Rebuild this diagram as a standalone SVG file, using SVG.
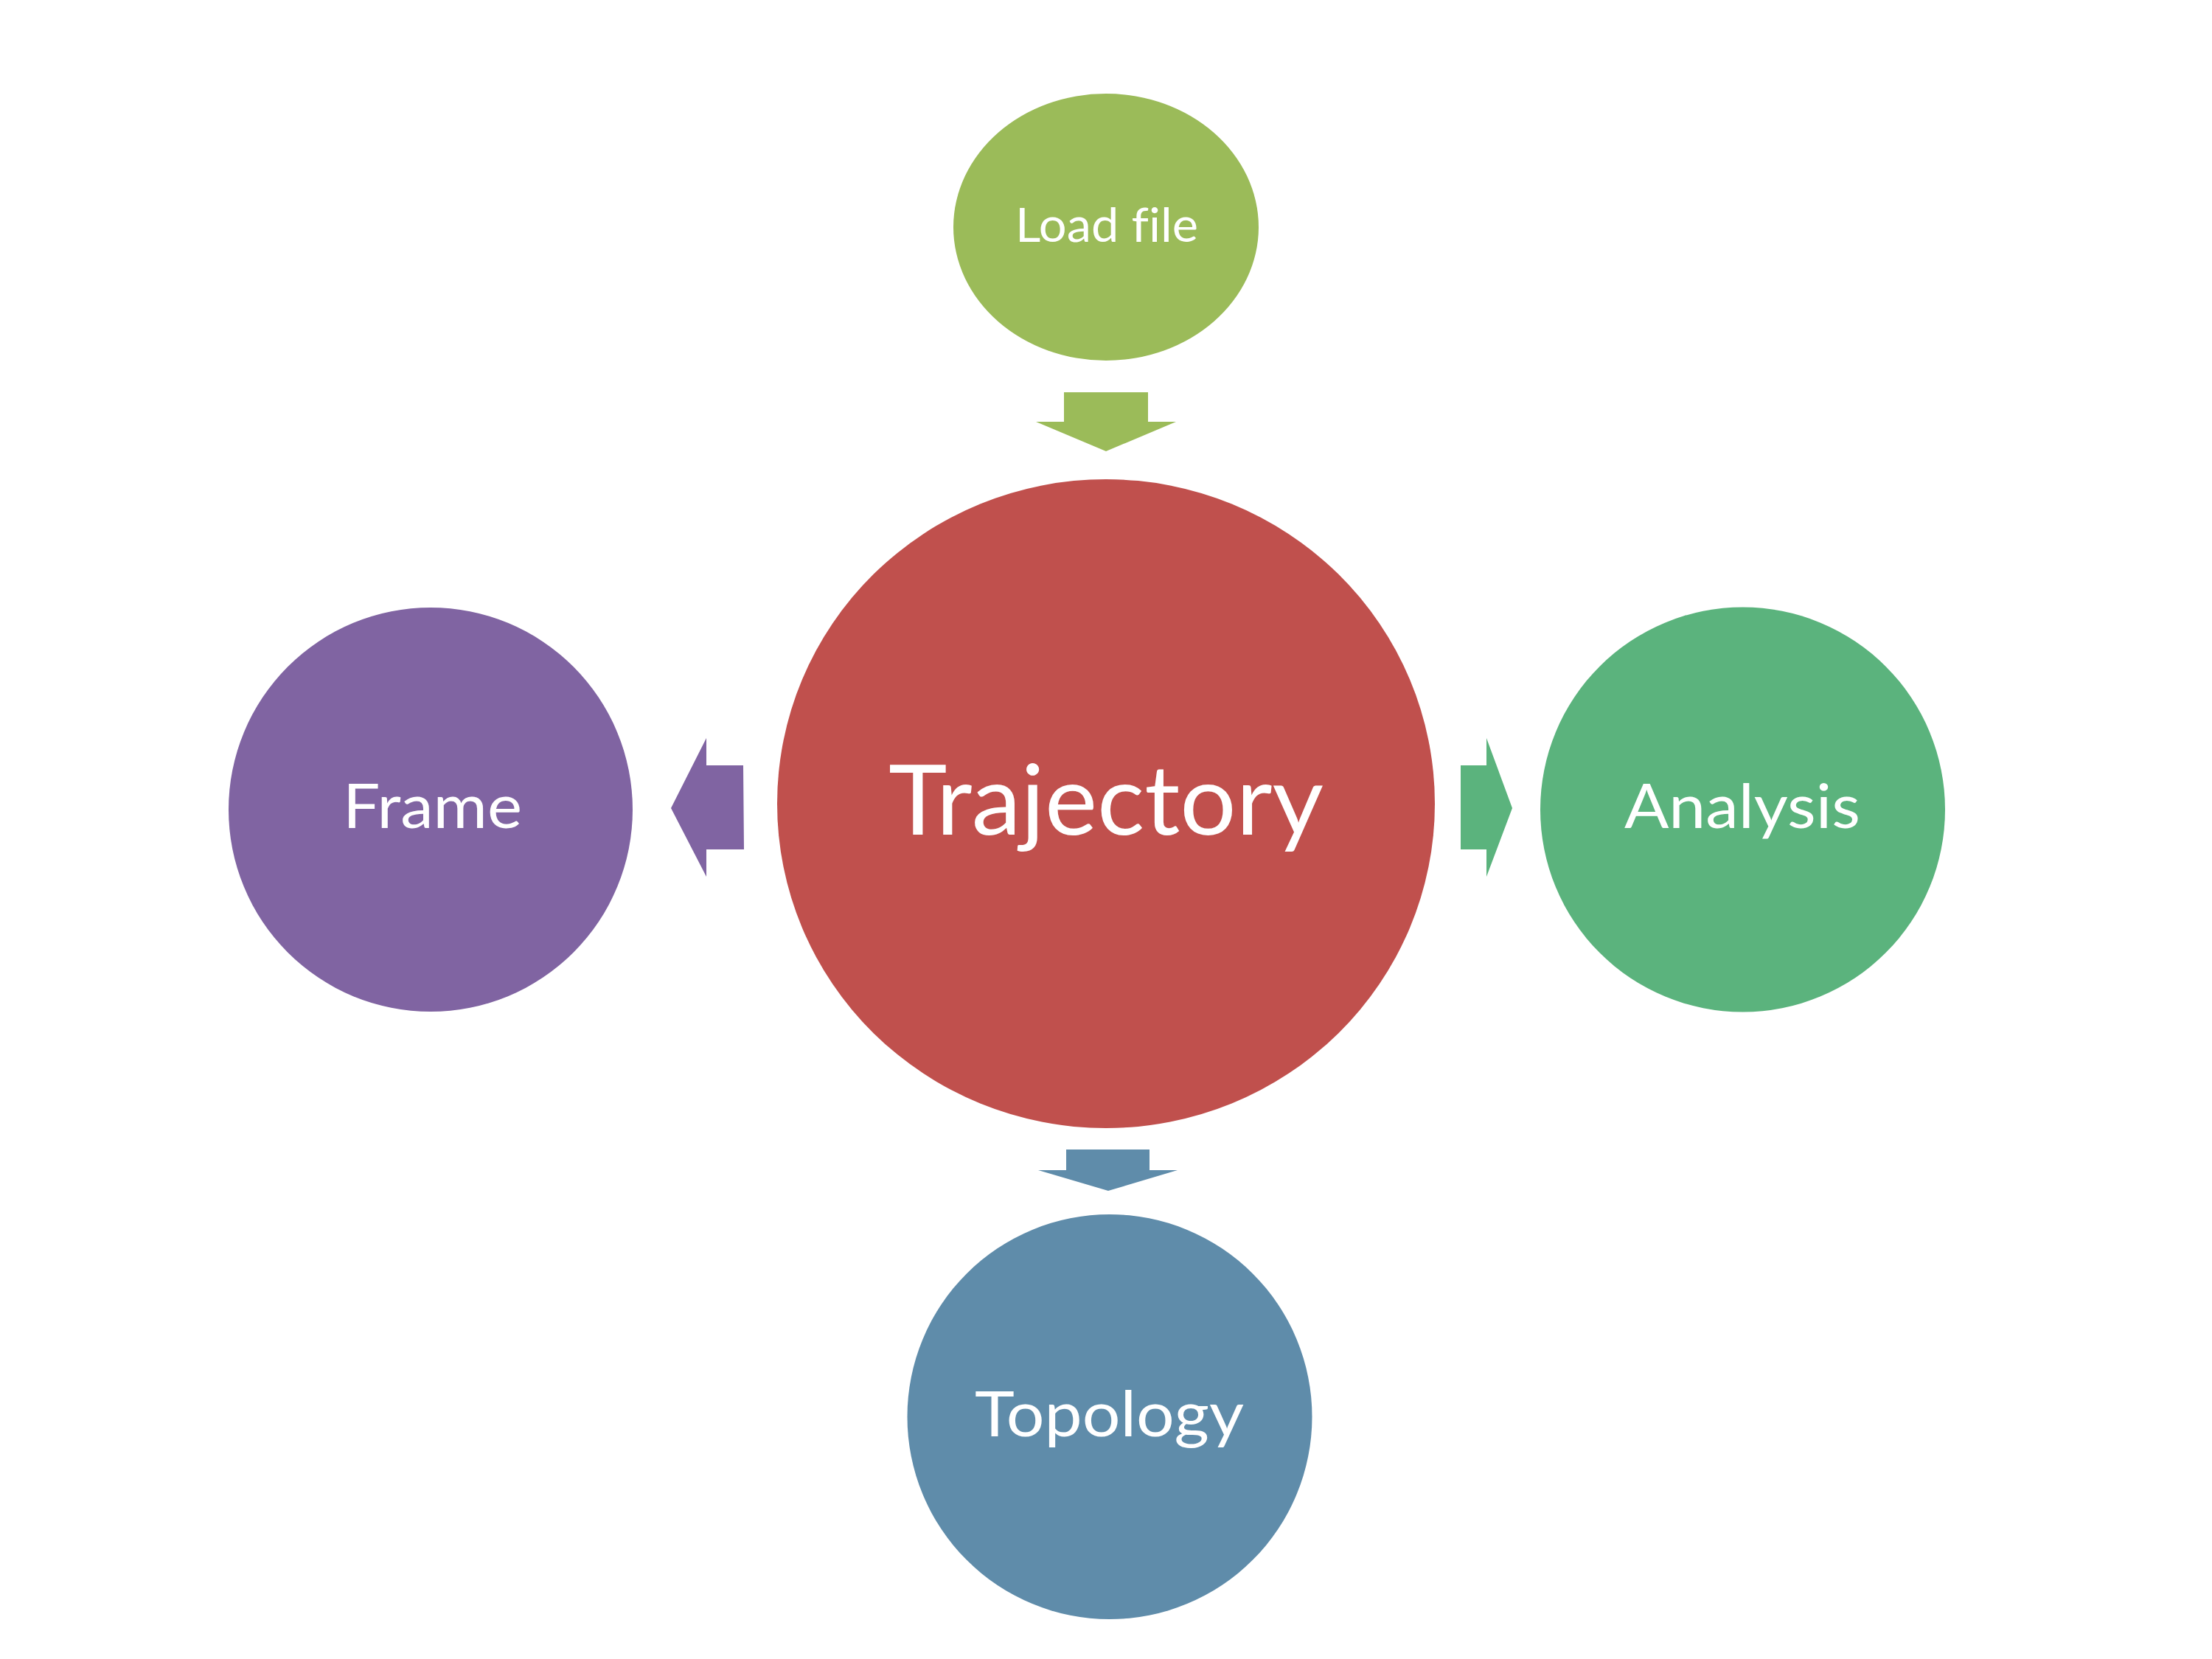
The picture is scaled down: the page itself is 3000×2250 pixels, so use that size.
<svg xmlns="http://www.w3.org/2000/svg" width="3000" height="2250" viewBox="0 0 3000 2250">
<style>
.lbl{font-family:"Lato","Open Sans","Liberation Sans",sans-serif;fill:#ffffff;text-anchor:middle;font-variant-ligatures:none;font-feature-settings:"liga" 0}
</style>
<rect width="3000" height="2250" fill="#ffffff"/>
<g id="connectors">
<polygon points="1443,532 1557,532 1557,572 1595,572 1500,612 1405,572 1443,572" fill="#9BBB59"/>
<polygon points="1008,1038 1009,1152 958,1152 958,1189 910,1096 958,1001 958,1038" fill="#8064A2"/>
<polygon points="1981,1038 2016,1038 2016,1001 2051,1096 2016,1189 2016,1152 1981,1152" fill="#5BB37D"/>
<polygon points="1446,1559 1559,1559 1559,1587 1597,1587 1503,1615 1408,1587 1446,1587" fill="#5F8CAA"/>
</g>
<g id="node-loadfile">
<ellipse cx="1500" cy="308" rx="207" ry="181" fill="#9BBB59"/>
<text class="lbl" x="1501" y="328" font-size="64" textLength="248" lengthAdjust="spacingAndGlyphs">Load file</text>
</g>
<g id="node-trajectory">
<ellipse cx="1500" cy="1090" rx="446" ry="440" fill="#C0504D"/>
<text class="lbl" x="1500" y="1132" font-size="131" textLength="590" lengthAdjust="spacingAndGlyphs">Trajectory</text>
</g>
<g id="node-frame">
<circle cx="584" cy="1098" r="274" fill="#8064A2"/>
<text class="lbl" x="586.5" y="1123" font-size="84" textLength="243" lengthAdjust="spacingAndGlyphs">Frame</text>
</g>
<g id="node-analysis">
<circle cx="2363.5" cy="1098" r="274.5" fill="#5BB37D"/>
<text class="lbl" x="2363" y="1123" font-size="84" textLength="320" lengthAdjust="spacingAndGlyphs">Analysis</text>
</g>
<g id="node-topology">
<circle cx="1505" cy="1921.5" r="274.5" fill="#5F8CAA"/>
<text class="lbl" x="1504.5" y="1948" font-size="86" textLength="365" lengthAdjust="spacingAndGlyphs">Topology</text>
</g>
</svg>
